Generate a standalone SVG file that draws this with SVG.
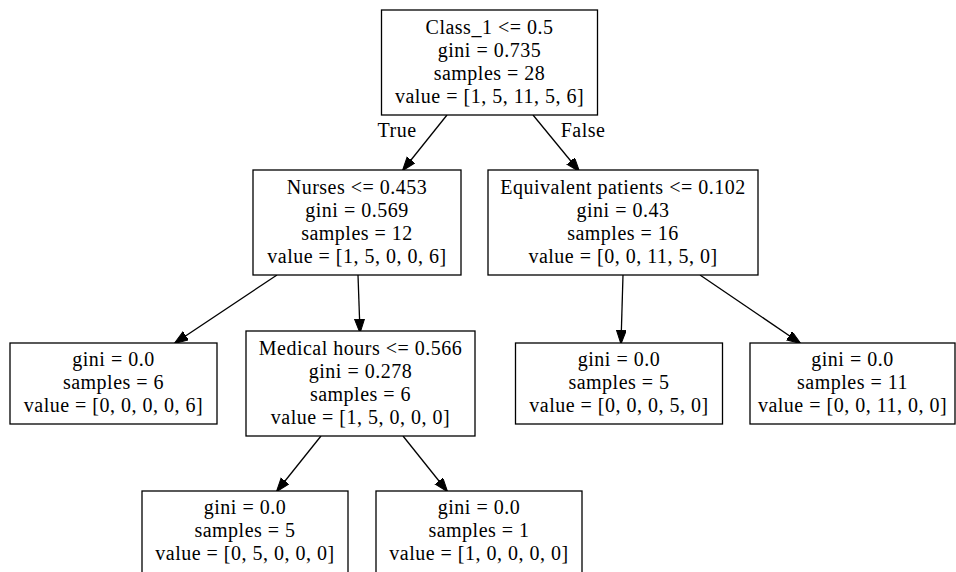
<svg xmlns="http://www.w3.org/2000/svg" width="956" height="572" viewBox="0 0 956 572">
  <defs>
    <style>
      .box { fill: #ffffff; stroke: #000000; stroke-width: 1.3; }
      .lbl { font-family: "Liberation Serif", "Times New Roman", serif; font-size: 20px; fill: #000000; text-anchor: middle; letter-spacing: 0.5px; }
      .edge { stroke: #000000; stroke-width: 1.3; fill: none; marker-end: url(#arrow); }
    </style>
    <marker id="arrow" markerUnits="userSpaceOnUse" markerWidth="16" markerHeight="12" refX="13" refY="5" orient="auto">
      <path d="M0,0 L14,5 L0,10 z" fill="#000000" stroke="#000000" stroke-width="1"/>
    </marker>
  </defs>
  <rect width="956" height="572" fill="#ffffff"/>

  <g id="edges">
    <line class="edge" x1="447" y1="115" x2="403" y2="170"/>
    <line class="edge" x1="533" y1="115" x2="579" y2="171"/>
    <line class="edge" x1="277" y1="275" x2="175" y2="343"/>
    <line class="edge" x1="358" y1="275" x2="360" y2="332"/>
    <line class="edge" x1="623" y1="275" x2="621" y2="343"/>
    <line class="edge" x1="700" y1="275" x2="800" y2="343"/>
    <line class="edge" x1="321" y1="436" x2="277" y2="491"/>
    <line class="edge" x1="403" y1="436" x2="447" y2="491"/>
    <text class="lbl" x="397" y="137">True</text>
    <text class="lbl" x="583" y="137">False</text>
  </g>

  <g id="node0">
    <rect class="box" x="381.5" y="10" width="216" height="105"/>
    <text class="lbl" x="489.5" y="34">Class_1 &lt;= 0.5</text>
    <text class="lbl" x="489.5" y="57">gini = 0.735</text>
    <text class="lbl" x="489.5" y="80">samples = 28</text>
    <text class="lbl" x="489.5" y="103">value = [1, 5, 11, 5, 6]</text>
  </g>

  <g id="node1">
    <rect class="box" x="253" y="170" width="208" height="105"/>
    <text class="lbl" x="357" y="194">Nurses &lt;= 0.453</text>
    <text class="lbl" x="357" y="217">gini = 0.569</text>
    <text class="lbl" x="357" y="240">samples = 12</text>
    <text class="lbl" x="357" y="263">value = [1, 5, 0, 0, 6]</text>
  </g>

  <g id="node2">
    <rect class="box" x="10" y="343" width="207" height="81"/>
    <text class="lbl" x="113.5" y="366">gini = 0.0</text>
    <text class="lbl" x="113.5" y="389">samples = 6</text>
    <text class="lbl" x="113.5" y="412">value = [0, 0, 0, 0, 6]</text>
  </g>

  <g id="node3">
    <rect class="box" x="246" y="331" width="229" height="105"/>
    <text class="lbl" x="360.5" y="355">Medical hours &lt;= 0.566</text>
    <text class="lbl" x="360.5" y="378">gini = 0.278</text>
    <text class="lbl" x="360.5" y="401">samples = 6</text>
    <text class="lbl" x="360.5" y="424">value = [1, 5, 0, 0, 0]</text>
  </g>

  <g id="node4">
    <rect class="box" x="142" y="491" width="206" height="90"/>
    <text class="lbl" x="245" y="514">gini = 0.0</text>
    <text class="lbl" x="245" y="537">samples = 5</text>
    <text class="lbl" x="245" y="560">value = [0, 5, 0, 0, 0]</text>
  </g>

  <g id="node5">
    <rect class="box" x="376" y="491" width="206" height="90"/>
    <text class="lbl" x="479" y="514">gini = 0.0</text>
    <text class="lbl" x="479" y="537">samples = 1</text>
    <text class="lbl" x="479" y="560">value = [1, 0, 0, 0, 0]</text>
  </g>

  <g id="node6">
    <rect class="box" x="488" y="170" width="270" height="105"/>
    <text class="lbl" x="623" y="194">Equivalent patients &lt;= 0.102</text>
    <text class="lbl" x="623" y="217">gini = 0.43</text>
    <text class="lbl" x="623" y="240">samples = 16</text>
    <text class="lbl" x="623" y="263">value = [0, 0, 11, 5, 0]</text>
  </g>

  <g id="node7">
    <rect class="box" x="515.5" y="343" width="207" height="81"/>
    <text class="lbl" x="619" y="366">gini = 0.0</text>
    <text class="lbl" x="619" y="389">samples = 5</text>
    <text class="lbl" x="619" y="412">value = [0, 0, 0, 5, 0]</text>
  </g>

  <g id="node8">
    <rect class="box" x="750" y="343" width="205" height="81"/>
    <text class="lbl" x="852.5" y="366">gini = 0.0</text>
    <text class="lbl" x="852.5" y="389">samples = 11</text>
    <text class="lbl" x="852.5" y="412">value = [0, 0, 11, 0, 0]</text>
  </g>
</svg>
